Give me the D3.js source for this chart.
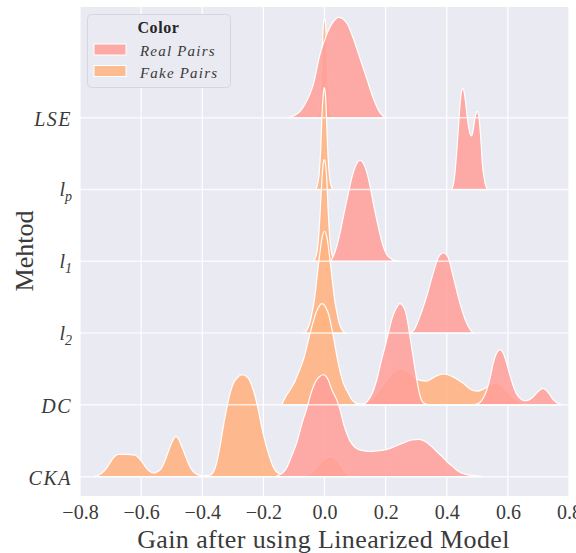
<!DOCTYPE html>
<html>
<head>
<meta charset="utf-8">
<script src="https://cdn.jsdelivr.net/npm/d3@7"></script>
<style>
  body { margin: 0; background: #fff; }
  svg { display: block; font-family: 'Liberation Serif', 'DejaVu Serif', serif; }
</style>
</head>
<body>
<svg id="chart" width="576" height="553"></svg>
<script>
'use strict'

// --------------------------------------------------------------------
// ------------------------------------------------------- DATA -------
// curves read off the picture : [gain, height in row units]

let methods = ['LSE', 'l_p', 'l_1', 'l_2', 'DC', 'CKA']
let xTicks = [-0.8, -0.6, -0.4, -0.2, 0.0, 0.2, 0.4, 0.6, 0.8]
let seriesNames = ['Real Pairs', 'Fake Pairs']
let seriesColors = ['#ff9f9b', '#ffb482']

let realLSE = [[-0.12,0],[-0.1,0.03],[-0.08,0.09],[-0.06,0.22],[-0.037,0.46],[-0.015,0.88],
  [0.007,1.16],[0.029,1.34],[0.045,1.40],[0.073,1.32],[0.094,1.11],[0.116,0.83],[0.138,0.55],
  [0.16,0.27],[0.182,0.07],[0.2,0]]
let fakeLSE = [[-0.03,0],[-0.018,0.08],[-0.012,0.45],[-0.007,1.0],[-0.003,1.33],[0,1.40],
  [0.003,1.33],[0.007,1.0],[0.012,0.45],[0.018,0.08],[0.03,0]]

let realLP = [[0.414,0],[0.421,0.06],[0.427,0.24],[0.433,0.55],[0.438,0.85],[0.443,1.17],
  [0.449,1.38],[0.452,1.41],[0.456,1.38],[0.46,1.27],[0.466,1.05],[0.471,0.89],[0.477,0.77],
  [0.482,0.75],[0.487,0.85],[0.492,0.99],[0.497,1.07],[0.5,1.09],[0.504,1.05],[0.509,0.85],
  [0.513,0.6],[0.516,0.38],[0.521,0.2],[0.525,0.1],[0.53,0.03],[0.535,0]]
let fakeLP = [[-0.031,0],[-0.024,0.05],[-0.018,0.2],[-0.012,0.6],[-0.008,1.07],[-0.004,1.33],
  [-0.001,1.42],[0.003,1.33],[0.006,1.07],[0.01,0.6],[0.016,0.2],[0.022,0.05],[0.03,0]]

let realL1 = [[0.02,0],[0.03,0.08],[0.04,0.21],[0.051,0.4],[0.062,0.63],[0.073,0.85],[0.083,1.05],
  [0.1,1.31],[0.116,1.41],[0.133,1.31],[0.149,1.05],[0.16,0.8],[0.171,0.58],[0.182,0.37],
  [0.192,0.21],[0.203,0.1],[0.214,0.05],[0.23,0.01],[0.25,0]]
let fakeL1 = [[-0.038,0],[-0.028,0.07],[-0.02,0.3],[-0.014,0.7],[-0.009,1.1],[-0.004,1.37],
  [-0.001,1.42],[0.003,1.37],[0.008,1.1],[0.012,0.7],[0.018,0.3],[0.026,0.07],[0.036,0]]

let realL2 = [[0.28,0],[0.295,0.06],[0.312,0.23],[0.334,0.51],[0.356,0.84],[0.372,1.05],
  [0.389,1.12],[0.405,1.05],[0.421,0.79],[0.443,0.42],[0.465,0.14],[0.478,0.04],[0.488,0]]
let fakeL2 = [[-0.068,0],[-0.058,0.04],[-0.049,0.13],[-0.04,0.3],[-0.033,0.47],[-0.025,0.76],
  [-0.016,1.09],[-0.008,1.33],[0,1.42],[0.008,1.33],[0.016,1.09],[0.025,0.76],[0.033,0.47],
  [0.04,0.3],[0.049,0.13],[0.058,0.04],[0.068,0]]

let realDC = [[0.125,0],[0.14,0.05],[0.155,0.15],[0.171,0.35],[0.185,0.6],[0.198,0.81],[0.21,1.02],
  [0.22,1.19],[0.235,1.35],[0.247,1.41],[0.258,1.37],[0.269,1.23],[0.277,1.03],[0.285,0.81],
  [0.294,0.56],[0.302,0.35],[0.31,0.17],[0.318,0.06],[0.33,0.01],[0.35,0],[0.48,0],[0.503,0.02],
  [0.52,0.1],[0.531,0.21],[0.542,0.38],[0.552,0.58],[0.563,0.72],[0.574,0.77],[0.585,0.72],
  [0.596,0.58],[0.607,0.41],[0.618,0.26],[0.629,0.15],[0.64,0.09],[0.652,0.06],[0.662,0.06],
  [0.68,0.1],[0.7,0.19],[0.716,0.23],[0.732,0.17],[0.749,0.07],[0.76,0.03],[0.775,0]]
let fakeDC = [[-0.14,0],[-0.129,0.1],[-0.114,0.2],[-0.1,0.3],[-0.086,0.44],[-0.069,0.63],
  [-0.047,1.0],[-0.026,1.3],[-0.009,1.41],[0.012,1.28],[0.029,0.95],[0.045,0.58],[0.062,0.3],
  [0.073,0.2],[0.09,0.07],[0.105,0.02],[0.12,0.01],[0.14,0.03],[0.17,0.15],[0.2,0.33],
  [0.228,0.47],[0.253,0.51],[0.278,0.45],[0.3,0.36],[0.334,0.33],[0.36,0.39],[0.389,0.43],
  [0.42,0.39],[0.454,0.3],[0.48,0.21],[0.498,0.19],[0.52,0.22],[0.545,0.29],[0.563,0.30],
  [0.59,0.22],[0.62,0.1],[0.65,0.02],[0.67,0]]

let realCKA = [[-0.16,0],[-0.145,0.03],[-0.135,0.06],[-0.124,0.12],[-0.108,0.28],[-0.091,0.47],
  [-0.075,0.72],[-0.058,0.95],[-0.045,1.15],[-0.03,1.32],[-0.015,1.4],[-0.003,1.42],[0.012,1.35],
  [0.024,1.21],[0.04,1.07],[0.051,0.93],[0.062,0.74],[0.073,0.6],[0.083,0.5],[0.097,0.42],
  [0.111,0.38],[0.13,0.36],[0.149,0.35],[0.175,0.36],[0.204,0.38],[0.23,0.42],[0.258,0.47],
  [0.285,0.51],[0.307,0.52],[0.325,0.5],[0.345,0.44],[0.367,0.35],[0.385,0.28],[0.40,0.21],
  [0.417,0.15],[0.433,0.09],[0.455,0.04],[0.476,0.02],[0.5,0.01],[0.52,0]]
let fakeCKA = [[-0.755,0],[-0.735,0.03],[-0.718,0.09],[-0.705,0.17],[-0.691,0.26],[-0.675,0.31],
  [-0.647,0.31],[-0.62,0.30],[-0.598,0.21],[-0.577,0.09],[-0.558,0.05],[-0.545,0.07],[-0.533,0.12],
  [-0.522,0.22],[-0.511,0.35],[-0.498,0.49],[-0.486,0.56],[-0.476,0.51],[-0.467,0.42],[-0.456,0.3],
  [-0.446,0.19],[-0.435,0.1],[-0.424,0.05],[-0.41,0.02],[-0.397,0.01],[-0.375,0.02],[-0.363,0.07],
  [-0.353,0.19],[-0.342,0.42],[-0.331,0.70],[-0.32,0.95],[-0.309,1.16],[-0.298,1.3],[-0.287,1.37],
  [-0.269,1.42],[-0.249,1.37],[-0.238,1.27],[-0.227,1.12],[-0.216,0.92],[-0.206,0.70],[-0.195,0.5],
  [-0.184,0.33],[-0.173,0.19],[-0.162,0.09],[-0.148,0.04],[-0.135,0.02],[-0.1,0.01],[-0.06,0.02],
  [-0.04,0.06],[-0.02,0.16],[0,0.24],[0.024,0.28],[0.045,0.21],[0.065,0.08],[0.085,0.01],[0.1,0]]

let realByMethod = [realLSE, realLP, realL1, realL2, realDC, realCKA]
let fakeByMethod = [fakeLSE, fakeLP, fakeL1, fakeL2, fakeDC, fakeCKA]

let rows = methods.map((m, i) => {
  return {method: m, pos: methods.length - 1 - i, real: realByMethod[i], fake: fakeByMethod[i]}
})

// --------------------------------------------------------------------
// ------------------------------------------ POSITIONNING DATA -------

let svg = d3.select('#chart')
let serif = 'Liberation Serif, DejaVu Serif, serif'

let plotLeft = 80, plotRight = 569, plotTop = 7, plotBottom = 496

let x = d3.scaleLinear().domain([-0.8, 0.8]).range([plotLeft, plotRight])
let y = d3.scaleLinear().domain([-0.27, 6.545]).range([plotBottom, plotTop])

svg.append('rect')
  .attr('x', plotLeft).attr('y', plotTop)
  .attr('width', plotRight - plotLeft).attr('height', plotBottom - plotTop)
  .attr('fill', '#eaeaf2')

// --------------------------------------------------------------------
// ------------------------------------------------- AXIS/GRIDS -------

svg.append('g').selectAll('line').data(xTicks).enter()
  .append('line')
    .attr('x1', d => x(d)).attr('x2', d => x(d))
    .attr('y1', plotTop).attr('y2', plotBottom)
    .attr('stroke', '#fff').attr('stroke-width', 1.2)

let xAxis = d3.axisBottom(x)
  .tickValues(xTicks)
  .tickSize(0)
  .tickFormat(d3.format('.1f'))

let xG = svg.append('g')
  .attr('transform', 'translate(0,' + plotBottom + ')')
  .call(xAxis)
  .attr('font-family', serif)
xG.select('.domain').remove()
xG.selectAll('text')
  .attr('y', 23).attr('dy', 0)
  .attr('font-size', 20)
  .attr('fill', '#3a3a3a')

let yAxis = d3.axisLeft(y)
  .tickValues(rows.map(r => r.pos))
  .tickSize(0)
  .tickPadding(8)
  .tickFormat(p => rows.find(r => r.pos == p).method)

let yG = svg.append('g')
  .attr('transform', 'translate(' + plotLeft + ',0)')
  .call(yAxis)
  .attr('font-family', serif)
yG.select('.domain').remove()
yG.selectAll('text').each(function(d) {
  let t = d3.select(this)
  let parts = t.text().split('_')
  t.text(null)
    .attr('font-style', 'italic')
    .attr('font-size', 20)
    .attr('fill', '#3a3a3a')
    .attr('dy', 0)
  if(parts.length > 1) {
    t.attr('y', 6)
    t.append('tspan').text(parts[0])
    t.append('tspan').attr('dy', 5).attr('font-size', 14).text(parts[1])
  } else {
    t.attr('y', 8).attr('letter-spacing', 1.5)
    t.append('tspan').text(parts[0])
  }
})

// --------------------------------------------------------------------
// ----------------------------------------------- DISPLAY DATA -------

function ridge(pos) {
  return d3.area()
    .curve(d3.curveMonotoneX)
    .x(d => x(d[0]))
    .y0(y(pos))
    .y1(d => y(pos + d[1]))
}

let displayG = svg.append('g')

rows.forEach(row => {
  let g = displayG.append('g')
  g.append('path')
    .attr('d', ridge(row.pos)(row.fake))
    .attr('fill', seriesColors[1])
    .attr('fill-opacity', 0.9)
    .attr('stroke', '#fff').attr('stroke-width', 1.2)
  g.append('path')
    .attr('d', ridge(row.pos)(row.real))
    .attr('fill', seriesColors[0])
    .attr('fill-opacity', 0.88)
    .attr('stroke', '#fff').attr('stroke-width', 1.2)
})

// baselines stay visible over the ridges
svg.append('g').selectAll('line').data(rows).enter()
  .append('line')
    .attr('x1', plotLeft).attr('x2', plotRight)
    .attr('y1', d => y(d.pos)).attr('y2', d => y(d.pos))
    .attr('stroke', '#fff').attr('stroke-opacity', 0.75).attr('stroke-width', 1.5)

// --------------------------------------------------------------------
// ----------------------------------------------------- LABELS -------

svg.append('text')
  .attr('x', (plotLeft + plotRight) / 2 - 1)
  .attr('y', 548)
  .attr('text-anchor', 'middle')
  .attr('font-family', serif)
  .attr('font-size', 26)
  .attr('letter-spacing', 0.4)
  .attr('fill', '#3a3a3a')
  .text('Gain after using Linearized Model')

svg.append('text')
  .attr('transform', 'translate(33,251) rotate(-90)')
  .attr('text-anchor', 'middle')
  .attr('font-family', serif)
  .attr('font-size', 26)
  .attr('fill', '#3a3a3a')
  .text('Mehtod')

// ----- LEGEND
let legend = svg.append('g').attr('font-family', serif)

legend.append('rect')
  .attr('x', 87.5).attr('y', 14.5)
  .attr('width', 143).attr('height', 73)
  .attr('rx', 4)
  .attr('fill', '#eaeaf2')
  .attr('stroke', '#d6d6de')

legend.append('text')
  .attr('x', 158.5).attr('y', 33)
  .attr('text-anchor', 'middle')
  .attr('font-weight', 'bold')
  .attr('font-size', 16)
  .attr('letter-spacing', 0.6)
  .attr('fill', '#262626')
  .text('Color')

let items = legend.selectAll('g.item').data(seriesNames).enter()
  .append('g').attr('class', 'item')
  .attr('transform', (d, i) => 'translate(0,' + (i * 21.5) + ')')

items.append('rect')
  .attr('x', 94).attr('y', 44)
  .attr('width', 32).attr('height', 11)
  .attr('fill', (d, i) => seriesColors[i])
  .attr('fill-opacity', 0.88)
  .attr('stroke', '#fff')

items.append('text')
  .attr('x', 140).attr('y', 56)
  .attr('font-style', 'italic')
  .attr('font-size', 15)
  .attr('letter-spacing', 1.2)
  .attr('fill', '#3a3a3a')
  .text(d => d)

</script>
</body>
</html>
